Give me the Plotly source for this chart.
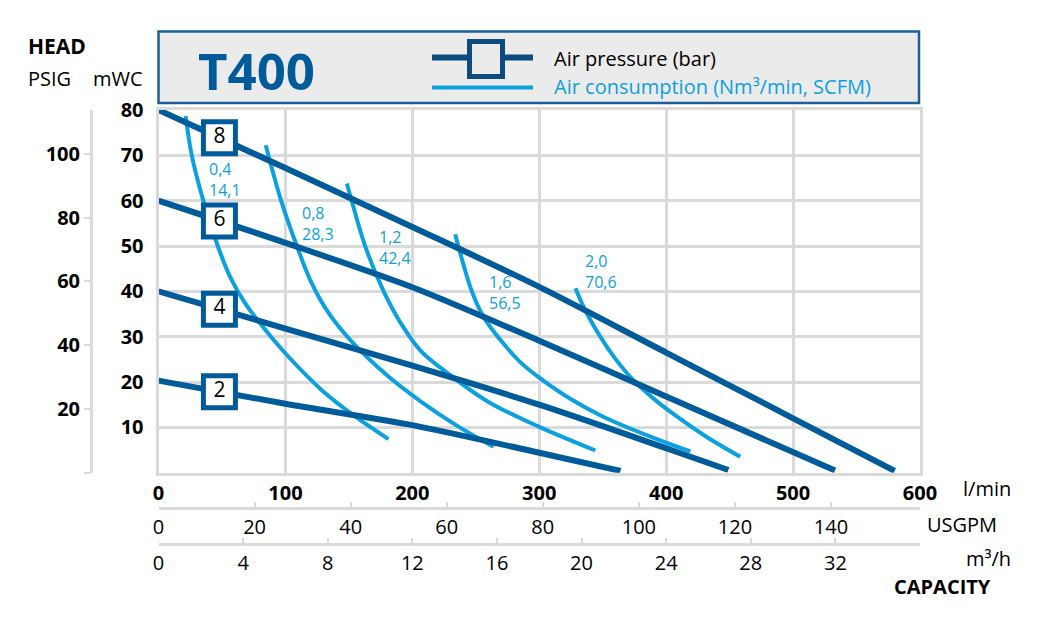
import numpy as np
import plotly.graph_objects as go

# ---------- data (flow l/min, head mWC) ----------
pressure_labels = ["8", "6", "4", "2"]
p8_flow = [0, 100, 200, 300, 400, 500, 580]
p8_head = [80, 67.2, 54.2, 41.0, 26.5, 12.0, 0.4]
p6_flow = [0, 100, 200, 300, 400, 533]
p6_head = [60, 50.7, 40.9, 29.1, 16.8, 0.5]
p4_flow = [0, 100, 200, 300, 400, 449]
p4_head = [40, 31.8, 23.6, 15.0, 5.4, 0.6]
p2_flow = [0, 100, 200, 300, 364]
p2_head = [20.3, 15.2, 10.5, 4.4, 0.4]

air_nm3 = ["0,4", "0,8", "1,2", "1,6", "2,0"]
air_scfm = ["14,1", "28,3", "42,4", "56,5", "70,6"]
a04_flow = [21.4, 26.2, 35.3, 46.7, 56.4, 68.2, 81.6, 99.7, 128.7, 154.9, 181.2]
a04_head = [78.7, 70.0, 60.0, 50.0, 43.2, 37.4, 32.4, 26.4, 18.2, 12.4, 7.4]
a08_flow = [84.5, 86.6, 96.6, 109.0, 120.2, 133.6, 151.0, 181.2, 206.2, 233.8, 264.0]
a08_head = [72.2, 70.0, 60.0, 50.0, 42.1, 35.4, 29.3, 21.2, 15.8, 10.6, 5.7]
a12_flow = [148.4, 152.3, 162.8, 177.2, 190.4, 206.2, 228.5, 260.0, 300.0, 344.2]
a12_head = [63.8, 59.9, 50.0, 40.1, 33.2, 27.0, 21.8, 15.6, 10.1, 4.9]
a16_flow = [233.8, 236.4, 247.0, 256.6, 269.3, 285.0, 300.8, 324.4, 350.7, 390.1, 419.1]
a16_head = [52.6, 49.8, 39.9, 34.1, 29.3, 24.4, 20.8, 16.3, 12.3, 7.7, 4.7]
a20_flow = [328.6, 334.9, 348.1, 360.0, 374.1, 391.5, 405.9, 430.7, 458.4]
a20_head = [40.7, 36.6, 30.0, 25.1, 20.4, 16.0, 12.9, 8.1, 3.5]

# label anchors for the air consumption values (flow, head)
air_label_flow = [38, 111.5, 172, 259, 334.5]
air_label_head = [64.6, 55.0, 49.6, 39.7, 44.4]
box_flow = 48  # where the pressure boxes sit on each line

flow_ticks = [0, 100, 200, 300, 400, 500, 600]
head_ticks = [10, 20, 30, 40, 50, 60, 70, 80]
psig_ticks = [0, 20, 40, 60, 80, 100]
usgpm_ticks = [0, 20, 40, 60, 80, 100, 120, 140]
m3h_ticks = [0, 4, 8, 12, 16, 20, 24, 28, 32]

LPM_PER_USGPM = 3.785
LPM_PER_M3H = 1000 / 60
MWC_PER_PSI = 0.70307

DARK = "#005b9a"
NAVY = "#0d4a7e"
LIGHT = "#0ba0e0"
GRID = "#dadada"
FONT = "Open Sans"

# ---------- page geometry (pixels in the browser window) ----------
PAGE = 8  # default body margin of the html page
PLOT_L, PLOT_R, PLOT_T, PLOT_B = 91, 920, 110, 544
W, H = PLOT_R - PLOT_L, PLOT_B - PLOT_T


def fx(px):
    return (px - PLOT_L) / W


def fy(py):
    return (PLOT_B - py) / H


fig = go.Figure()

air_curves = [(a04_flow, a04_head), (a08_flow, a08_head), (a12_flow, a12_head),
              (a16_flow, a16_head), (a20_flow, a20_head)]
for xs, ys in air_curves:
    fig.add_trace(go.Scatter(x=xs, y=ys, mode="lines",
                             line=dict(color=LIGHT, width=4, shape="spline", smoothing=1.0),
                             showlegend=False, hoverinfo="skip"))

p_lines = [(p8_flow, p8_head), (p6_flow, p6_head), (p4_flow, p4_head), (p2_flow, p2_head)]
for xs, ys in p_lines:
    fig.add_trace(go.Scatter(x=xs, y=ys, mode="lines",
                             line=dict(color=DARK, width=6, shape="spline", smoothing=0.8),
                             showlegend=False, hoverinfo="skip"))

# boxes with the pressure value, sitting on each line
box_y = [np.interp(box_flow, xs, ys) for xs, ys in p_lines]
fig.add_trace(go.Scatter(x=[box_flow] * 4, y=box_y, mode="markers+text", text=pressure_labels,
                         textposition="middle center", textfont=dict(family=FONT, size=21, color="black"),
                         marker=dict(symbol="square", size=32, color="white", line=dict(color=DARK, width=5)),
                         showlegend=False, hoverinfo="skip"))

# dummies so the secondary axes get drawn
for xa, ya in [("x2", "y"), ("x3", "y"), ("x", "y2")]:
    fig.add_trace(go.Scatter(x=[0], y=[0], xaxis=xa, yaxis=ya, mode="markers", marker=dict(opacity=0),
                             showlegend=False, hoverinfo="skip"))

for i in range(len(air_nm3)):
    fig.add_annotation(x=air_label_flow[i], y=air_label_head[i], xref="x", yref="y",
                       text=air_nm3[i] + "<br>" + air_scfm[i], showarrow=False, align="left",
                       xanchor="left", yanchor="middle", font=dict(family=FONT, size=16, color=LIGHT))

# header box with title and legend
shapes = [
    dict(type="rect", xref="paper", yref="paper", x0=fx(158.5), x1=fx(919), y0=fy(103), y1=fy(31.5),
         fillcolor="#ebebeb", line=dict(color="#1d5e9b", width=2.5)),
    dict(type="line", xref="paper", yref="paper", x0=fx(432), x1=fx(533), y0=fy(57.5), y1=fy(57.5),
         line=dict(color=NAVY, width=6)),
    dict(type="rect", xref="paper", yref="paper", x0=fx(469.5), x1=fx(502.5), y0=fy(76.5), y1=fy(41.5),
         fillcolor="#ebebeb", line=dict(color=NAVY, width=5)),
    dict(type="line", xref="paper", yref="paper", x0=fx(432), x1=fx(533), y0=fy(87.5), y1=fy(87.5),
         line=dict(color=LIGHT, width=4)),
]

texts = [
    ("T400", 196, 70, 51, "bold", DARK),
    ("Air pressure (bar)", 552, 58, 20, "normal", "black"),
    ("Air consumption (Nm³/min, SCFM)", 552, 87, 20, "normal", LIGHT),
    ("HEAD", 26, 45.5, 21, "bold", "black"),
    ("PSIG", 26, 78, 20, "normal", "black"),
    ("mWC", 91, 78, 20, "normal", "black"),
    ("l/min", 961, 488, 20, "normal", "black"),
    ("USGPM", 925, 524, 20, "normal", "black"),
    ("m³/h", 964, 558, 20, "normal", "black"),
    ("CAPACITY", 892, 586, 20, "bold", "black"),
]
for txt, px, py, size, weight, color in texts:
    fig.add_annotation(x=fx(px), y=fy(py), xref="paper", yref="paper", text=txt, showarrow=False,
                       xanchor="left", yanchor="middle",
                       font=dict(family=FONT, size=size, color=color, weight=weight))

x_dom = [fx(158.5), 1]
tick_bold = dict(family=FONT, size=20, color="black", weight="bold")
tick_reg = dict(family=FONT, size=20, color="black")

fig.update_layout(
    width=1040 - PAGE, height=624 - PAGE,
    margin=dict(l=PLOT_L - PAGE, r=1040 - PLOT_R, t=PLOT_T - PAGE, b=624 - PLOT_B),
    paper_bgcolor="white", plot_bgcolor="white",
    shapes=shapes,
    xaxis=dict(domain=x_dom, range=[0, 600], tickvals=flow_ticks, tickfont=tick_bold,
               showgrid=True, gridcolor=GRID, gridwidth=3, zeroline=False,
               showline=True, linecolor=GRID, linewidth=3, mirror=True, ticks="", anchor="y"),
    yaxis=dict(domain=[fy(472.7), 1], range=[0, 80], tickvals=head_ticks, tickfont=tick_bold,
               showgrid=True, gridcolor=GRID, gridwidth=3, zeroline=False,
               showline=True, linecolor=GRID, linewidth=3, mirror=True, ticks="", ticklabelstandoff=8),
    xaxis2=dict(overlaying="x", anchor="free", position=fy(508), side="bottom",
                range=[0, 600 / LPM_PER_USGPM], tickvals=usgpm_ticks, tickfont=tick_reg,
                showgrid=False, zeroline=False, showline=True, linecolor=GRID, linewidth=3,
                ticks="inside", ticklen=5, tickwidth=2, tickcolor=GRID),
    xaxis3=dict(overlaying="x", anchor="free", position=fy(544), side="bottom",
                range=[0, 600 / LPM_PER_M3H], tickvals=m3h_ticks, tickfont=tick_reg,
                showgrid=False, zeroline=False, showline=True, linecolor=GRID, linewidth=3,
                ticks="inside", ticklen=5, tickwidth=2, tickcolor=GRID),
    yaxis2=dict(overlaying="y", anchor="free", position=0, side="left",
                range=[0, 80 / MWC_PER_PSI], tickvals=psig_ticks,
                ticktext=[""] + [str(v) for v in psig_ticks[1:]], tickfont=tick_bold,
                showgrid=False, zeroline=False, showline=True, linecolor=GRID, linewidth=3,
                ticks="outside", ticklen=6, tickwidth=2, tickcolor=GRID),
)

fig.write_html("out.html")
